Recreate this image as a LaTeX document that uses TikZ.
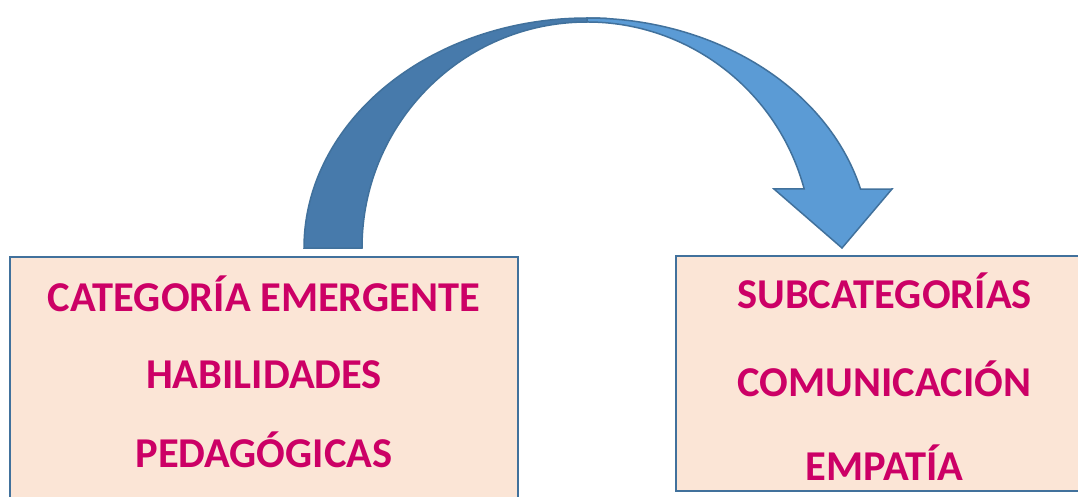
\documentclass[tikz,border=0pt]{standalone}
\usepackage{fontspec}
\setmainfont{Carlito}
\definecolor{boxfill}{HTML}{FBE5D6}
\definecolor{boxline}{HTML}{41719C}
\definecolor{txtmag}{HTML}{CC0066}
\definecolor{arrdark}{HTML}{477AAB}
\definecolor{arrlight}{HTML}{5B9BD5}
\definecolor{arrline}{HTML}{41719C}
\tikzset{
  catbox/.style={draw=boxline, line width=2.4pt, fill=boxfill, rectangle, inner sep=0pt},
  cattext/.style={anchor=base, text=txtmag, font=\fontsize{42.5}{50}\selectfont\bfseries, inner sep=0pt},
  arrowpart/.style={draw=arrline, line width=1.5pt, line join=miter}
}
\begin{document}
\begin{tikzpicture}[x=1pt,y=1pt]
\useasboundingbox (0,0) rectangle (1078,496);
\clip (0,0) rectangle (1078,496);
% boxes
\node[catbox, minimum width=508pt, minimum height=259pt] (left) at (264,109.5) {};
\node[catbox, minimum width=416pt, minimum height=235pt] (right) at (884,122.5) {};
% texts
\node[cattext] (l1) at (264,185) {CATEGORÍA EMERGENTE};
\node[cattext] (l2) at (264,108) {HABILIDADES};
\node[cattext] (l3) at (264,29) {PEDAGÓGICAS};
\node[cattext] (r1) at (884.5,188) {SUBCATEGORÍAS};
\node[cattext] (r2) at (884.5,100) {COMUNICACIÓN};
\node[cattext] (r3) at (884.5,16) {EMPATÍA};
% curved arrow: back (dark) band
\draw[arrowpart, fill=arrdark] (304,248)
  arc[start angle=180, end angle=87, x radius=283, y radius=230]
  -- (587,474)
  arc[start angle=90, end angle=180, x radius=225, y radius=226]
  -- cycle;
% front (light) band with head
\draw[arrowpart, fill=arrlight] (587,478)
  arc[start angle=90, end angle=14.86, x radius=283, y radius=230]
  -- (892,307) -- (842,248) -- (774,307) -- (804.2,307)
  arc[start angle=15.13, end angle=90, x radius=225, y radius=226]
  -- cycle;
\end{tikzpicture}
\end{document}
